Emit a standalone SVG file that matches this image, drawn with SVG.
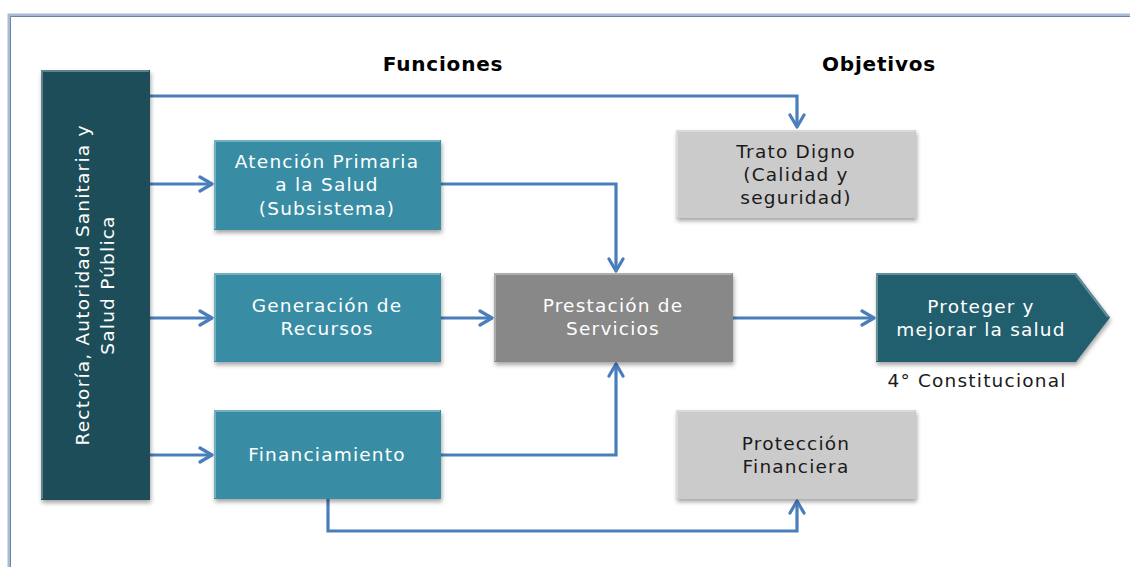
<svg xmlns="http://www.w3.org/2000/svg" width="1130" height="567" viewBox="0 0 1130 567">
<defs>
<style>
.t{font-family:"DejaVu Sans","Liberation Sans",sans-serif;font-size:18.5px;text-anchor:middle;letter-spacing:1.2px}
.w{fill:#ffffff}
.k{fill:#1a1a1a}
.h{font-family:"DejaVu Sans","Liberation Sans",sans-serif;font-size:20px;font-weight:bold;text-anchor:middle;fill:#000;letter-spacing:0.8px}
.c{fill:none;stroke:#4a7ebb;stroke-width:3.2;stroke-linejoin:miter}
.hl{fill:none;stroke:#ffffff;stroke-opacity:0.3;stroke-width:2}
</style>
<filter id="sh" x="-10%" y="-10%" width="125%" height="130%">
<feDropShadow dx="1" dy="3" stdDeviation="2" flood-color="#000" flood-opacity="0.35"/>
</filter>
<marker id="ar" viewBox="0 0 18 18" refX="15" refY="9" markerWidth="18" markerHeight="18" markerUnits="userSpaceOnUse" orient="auto">
<polyline points="3,2 15,9 3,16" fill="none" stroke="#4a7ebb" stroke-width="3.2" stroke-linecap="round" stroke-linejoin="round"/>
</marker>
</defs>
<rect width="1130" height="567" fill="#ffffff"/>
<g id="frame">
<path d="M9,567 V15 H1130" fill="none" stroke="#a9bcd3" stroke-width="3"/>
<path d="M10.5,567 V16.5 H1130" fill="none" stroke="#6a83a6" stroke-width="1"/>
</g>
<g id="headers">
<text class="h" x="443" y="71">Funciones</text>
<text class="h" x="879" y="71">Objetivos</text>
</g>
<g id="connectors">
<path class="c" d="M150,96 H797 V127" marker-end="url(#ar)"/>
<path class="c" d="M150,184 H212" marker-end="url(#ar)"/>
<path class="c" d="M150,318 H212" marker-end="url(#ar)"/>
<path class="c" d="M150,455 H212" marker-end="url(#ar)"/>
<path class="c" d="M441,184 H616 V271" marker-end="url(#ar)"/>
<path class="c" d="M441,318 H492" marker-end="url(#ar)"/>
<path class="c" d="M733,318 H874" marker-end="url(#ar)"/>
<path class="c" d="M441,455 H616 V364" marker-end="url(#ar)"/>
<path class="c" d="M328,499 V531 H797 V501" marker-end="url(#ar)"/>
</g>
<g id="rectoria">
<rect x="41" y="70" width="109" height="430" fill="#1f4d59" filter="url(#sh)"/>
<path class="hl" d="M42,499 V71 H149"/>
<text class="t w" transform="translate(89,285) rotate(-90)">Rectoría, Autoridad Sanitaria y</text>
<text class="t w" transform="translate(114,285) rotate(-90)">Salud Pública</text>
</g>
<g id="atencion">
<rect x="214" y="140" width="227" height="90" fill="#378da5" filter="url(#sh)"/>
<path class="hl" d="M215,229 V141 H440"/>
<text class="t w" x="327" y="168">Atención Primaria</text>
<text class="t w" x="327" y="191">a la Salud</text>
<text class="t w" x="327" y="215">(Subsistema)</text>
</g>
<g id="generacion">
<rect x="214" y="273" width="227" height="89" fill="#378da5" filter="url(#sh)"/>
<path class="hl" d="M215,361 V274 H440"/>
<text class="t w" x="327" y="312">Generación de</text>
<text class="t w" x="327" y="335">Recursos</text>
</g>
<g id="financiamiento">
<rect x="214" y="410" width="227" height="89" fill="#378da5" filter="url(#sh)"/>
<path class="hl" d="M215,498 V411 H440"/>
<text class="t w" x="327" y="461">Financiamiento</text>
</g>
<g id="prestacion">
<rect x="494" y="273" width="239" height="89" fill="#888888" filter="url(#sh)"/>
<path class="hl" d="M495,361 V274 H732"/>
<text class="t w" x="613" y="312">Prestación de</text>
<text class="t w" x="613" y="335">Servicios</text>
</g>
<g id="trato">
<rect x="676" y="130" width="240" height="88" fill="#cbcbcb" filter="url(#sh)"/>
<path class="hl" d="M677,217 V131 H915" stroke-opacity="0.6"/>
<text class="t k" x="796" y="158">Trato Digno</text>
<text class="t k" x="796" y="181">(Calidad y</text>
<text class="t k" x="796" y="204">seguridad)</text>
</g>
<g id="proteccion">
<rect x="676" y="410" width="240" height="89" fill="#cbcbcb" filter="url(#sh)"/>
<path class="hl" d="M677,498 V411 H915" stroke-opacity="0.6"/>
<text class="t k" x="796" y="450">Protección</text>
<text class="t k" x="796" y="473">Financiera</text>
</g>
<g id="proteger">
<path d="M876,273 H1076 L1110,317.5 L1076,362 H876 Z" fill="#235f6e" filter="url(#sh)"/>
<path class="hl" d="M877,361 V274 H1075 L1108,317"/>
<text class="t w" x="981" y="313">Proteger y</text>
<text class="t w" x="981" y="336">mejorar la salud</text>
<text class="t k" x="977" y="387">4° Constitucional</text>
</g>
</svg>
